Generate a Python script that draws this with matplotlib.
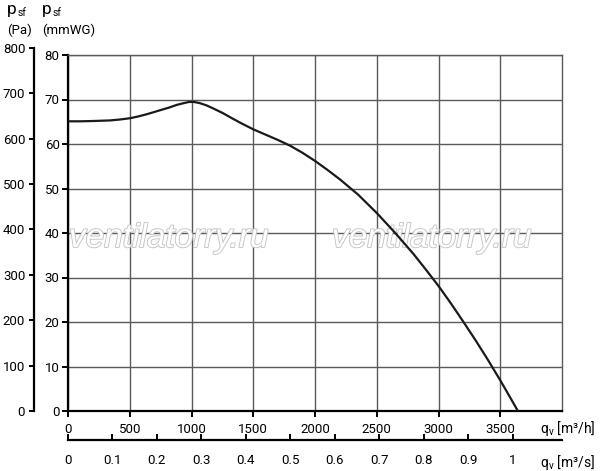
import matplotlib
matplotlib.use("Agg")
import matplotlib.pyplot as plt
import matplotlib.patheffects as pe

plt.rcParams["font.family"] = ["Roboto", "DejaVu Sans"]
plt.rcParams["mathtext.fontset"] = "custom"
plt.rcParams["mathtext.rm"] = "Roboto"

# fan curve: flow (m3/h) vs static pressure (mmWG)
flow = [0, 100, 207, 342, 420, 504, 570, 639, 700, 747, 820, 882, 940, 980, 1020,
        1065, 1120, 1179, 1250, 1314, 1400, 1500, 1600, 1700, 1800, 1900, 2000,
        2100, 2204, 2350, 2500, 2650, 2800, 2900, 3000, 3100, 3200, 3300, 3400,
        3500, 3575, 3643]
p_mmwg = [65.1, 65.1, 65.17, 65.3, 65.5, 65.8, 66.2, 66.7, 67.2, 67.6, 68.2, 68.8,
          69.2, 69.45, 69.45, 69.2, 68.7, 67.95, 67.0, 66.0, 64.7, 63.3, 62.1, 60.9,
          59.6, 58.0, 56.2, 54.2, 52.0, 48.6, 44.5, 40.0, 35.2, 31.7, 28.1, 24.2,
          20.1, 15.9, 11.5, 6.9, 3.3, 0.0]

x_ticks = [0, 500, 1000, 1500, 2000, 2500, 3000, 3500]
y_ticks = [0, 10, 20, 30, 40, 50, 60, 70, 80]
pa_ticks = [0, 100, 200, 300, 400, 500, 600, 700, 800]
m3s_ticks = [0, 0.1, 0.2, 0.3, 0.4, 0.5, 0.6, 0.7, 0.8, 0.9, 1]
m3s_labels = ["0", "0.1", "0.2", "0.3", "0.4", "0.5", "0.6", "0.7", "0.8", "0.9", "1"]

W, H = 600, 471
L, R, B, T = 68, 562, 411, 55
GRIDC = "#5a5a5a"
MMWG_TO_PA = 9.80665

fig = plt.figure(figsize=(W / 100, H / 100), dpi=100)
pos = [L / W, 1 - B / H, (R - L) / W, (B - T) / H]
ax = fig.add_axes(pos)
ax.set_xlim(0, 4000)
ax.set_ylim(0, 80)
ax.set_xticks(x_ticks, [str(v) for v in x_ticks])
ax.set_yticks(y_ticks, [str(v) for v in y_ticks])
ax.grid(True, color=GRIDC, linewidth=1.0)
ax.set_axisbelow(True)
for s in ("top", "right"):
    ax.spines[s].set_color(GRIDC)
    ax.spines[s].set_linewidth(1.0)
for s in ("left", "bottom"):
    ax.spines[s].set_color("black")
    ax.spines[s].set_linewidth(1.6)
ax.tick_params(axis="both", direction="out", length=4, width=1.4, colors="black",
               labelsize=9.5)
ax.tick_params(axis="y", pad=2)
ax.tick_params(axis="x", pad=4.5)
ax.plot(flow, p_mmwg, color="#1a1a1a", linewidth=1.6, zorder=3)

# watermark (above grid, below curve)
for xc in (169, 432):
    ax.text(xc / W, 1 - 247 / H, "ventilatorry.ru", transform=fig.transFigure,
            ha="center", va="baseline", fontsize=24, style="italic",
            family="Liberation Sans", color="white", zorder=2,
            path_effects=[pe.Stroke(linewidth=1.3, foreground="#c4c4c4"), pe.Normal()])

# Pa axis on the far left
pa_top = 800 / MMWG_TO_PA
axp = fig.add_axes([34 / W, 1 - B / H, 0.0001, (B - T) / H * pa_top / 80])
axp.set_ylim(0, 800)
axp.set_xticks([])
axp.set_yticks(pa_ticks, [str(v) for v in pa_ticks])
for s in ("top", "right", "bottom"):
    axp.spines[s].set_visible(False)
axp.spines["left"].set_linewidth(1.6)
axp.tick_params(axis="y", direction="out", length=3.8, width=1.4, labelsize=9.5, pad=2.5)
axp.patch.set_visible(False)

# m3/s axis below
axs = fig.add_axes([L / W, 1 - 440 / H, (R - L) / W, 0.0001])
axs.set_xlim(0, 4000 / 3600)
axs.set_yticks([])
axs.set_xticks(m3s_ticks, m3s_labels)
for s in ("top", "right", "left"):
    axs.spines[s].set_visible(False)
axs.spines["bottom"].set_linewidth(1.6)
axs.tick_params(axis="x", direction="in", length=4, width=1.4, labelsize=9.5, pad=10)
axs.patch.set_visible(False)

# axis titles
fig.text(540 / W, 1 - 428 / H, r"q$_{\mathregular{v}}$ [m³/h]", fontsize=10,
         ha="left", va="center")
fig.text(540 / W, 1 - 462 / H, r"q$_{\mathregular{v}}$ [m³/s]", fontsize=10,
         ha="left", va="center")

for x0, unit in ((7, "(Pa)"), (42, "(mmWG)")):
    fig.text(x0 / W, 1 - 14 / H, "p", fontsize=12.5, ha="left", va="baseline")
    fig.text((x0 + 11) / W, 1 - 16 / H, "sf", fontsize=7.5, ha="left", va="baseline")
    fig.text(x0 / W, 1 - 30 / H, unit, fontsize=9.5, ha="left", va="center")

fig.savefig("out.png", dpi=100)
